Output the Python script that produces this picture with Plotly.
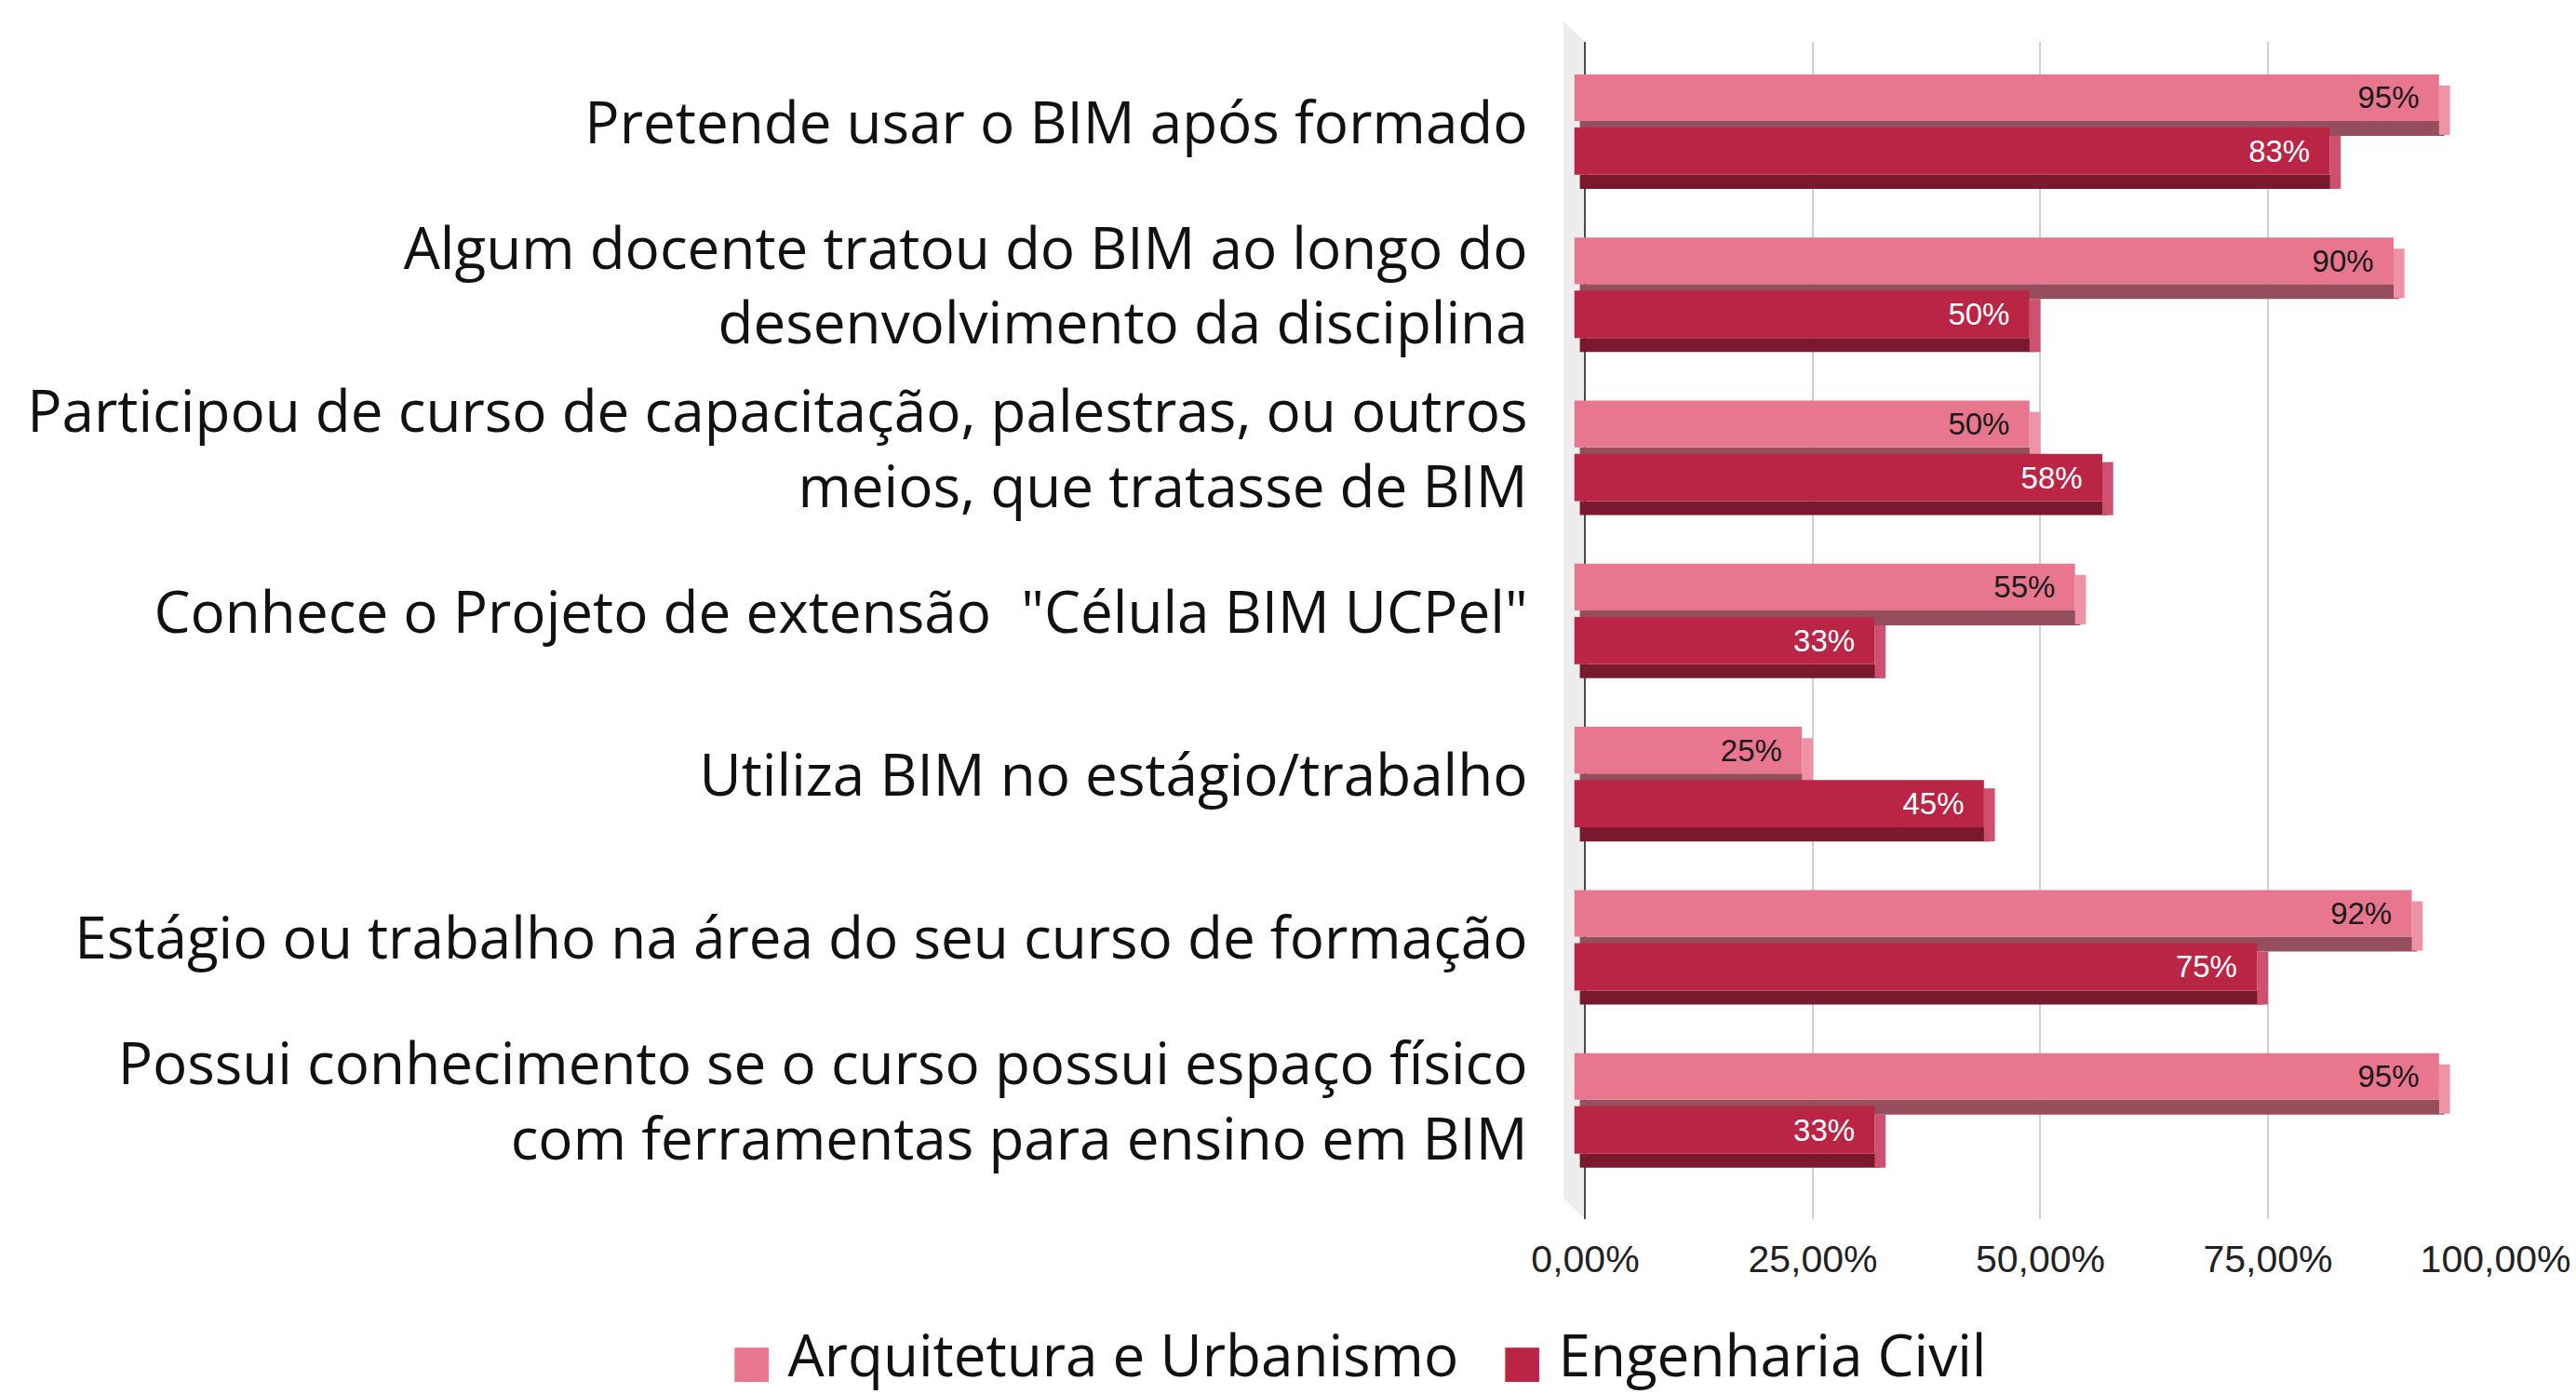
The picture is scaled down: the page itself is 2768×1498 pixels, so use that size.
import plotly.graph_objects as go

categories = [
    "Pretende usar o BIM após formado",
    "Algum docente tratou do BIM ao longo do<br>desenvolvimento da disciplina",
    "Participou de curso de capacitação, palestras, ou outros<br>meios, que tratasse de BIM",
    "Conhece o Projeto de extensão  \"Célula BIM UCPel\"",
    "Utiliza BIM no estágio/trabalho",
    "Estágio ou trabalho na área do seu curso de formação",
    "Possui conhecimento se o curso possui espaço físico<br>com ferramentas para ensino em BIM",
]
arq_values = [95, 90, 50, 55, 25, 92, 95]
eng_values = [83, 50, 58, 33, 45, 75, 33]
series_names = ["Arquitetura e Urbanismo", "Engenharia Civil"]
tick_values = [0, 25, 50, 75, 100]
tick_labels = ["0,00%", "25,00%", "50,00%", "75,00%", "100,00%"]

W, H = 2768, 1498
L, R, T, B = 1680, 86, 45, 188
DEPTH = 1.2  # pseudo-3D depth in axis %

styles = [
    dict(front="#E8768E", bottom="#954E5C", side="#EE93A6", text="#1a1a1a",
         f_off=-0.297, f_w=0.286, b_off=-0.011, b_w=0.091, s_off=-0.228, s_w=0.302),
    dict(front="#BA2445", bottom="#7A182E", side="#CD506E", text="#ffffff",
         f_off=0.029, f_w=0.290, b_off=0.319, b_w=0.086, s_off=0.08, s_w=0.325),
]

fig = go.Figure()
for name, vals, st in zip(series_names, [arq_values, eng_values], styles):
    # bottom face
    fig.add_trace(go.Bar(
        y=categories, x=vals, base=[-DEPTH / 2] * len(vals), orientation="h",
        offset=st["b_off"], width=st["b_w"], marker=dict(color=st["bottom"], line=dict(width=0)),
        showlegend=False, hoverinfo="skip"))
    # right side face
    fig.add_trace(go.Bar(
        y=categories, x=[DEPTH] * len(vals), base=[v - DEPTH for v in vals], orientation="h",
        offset=st["s_off"], width=st["s_w"], marker=dict(color=st["side"], line=dict(width=0)),
        showlegend=False, hoverinfo="skip"))
    # front face
    fig.add_trace(go.Bar(
        y=categories, x=vals, base=[-DEPTH] * len(vals), orientation="h",
        offset=st["f_off"], width=st["f_w"], marker=dict(color=st["front"], line=dict(width=0)),
        text=[f"{v}%\u00a0\u00a0" for v in vals], textposition="inside", insidetextanchor="end",
        textangle=0, constraintext="none",
        textfont=dict(family="Liberation Sans", size=33, color=st["text"]),
        name=name, showlegend=False))

# legend drawn as annotations (large swatches like the original)
plot_w = W - L - R
plot_h = H - T - B
legend_items = [(series_names[0], styles[0]["front"], 783), (series_names[1], styles[1]["front"], 1611)]
annotations = []
for name, color, px in legend_items:
    annotations.append(dict(
        xref="paper", yref="paper", x=(px - L) / plot_w, y=(H - B - 1455) / plot_h,
        xanchor="left", yanchor="middle", showarrow=False,
        text=f'<span style="color:{color};font-family:DejaVu Sans;font-size:48px">■</span>\u00a0{name}',
        font=dict(family="Open Sans", size=62, color="#111"),
    ))

fig.update_layout(
    width=W, height=H,
    margin=dict(l=L, r=R, t=T, b=B, pad=0, autoexpand=False),
    paper_bgcolor="white", plot_bgcolor="white",
    barmode="overlay",
    showlegend=False,
    annotations=annotations,
    shapes=[dict(type="path", xref="paper", yref="paper", layer="below",
                 path="M 0,1.0174 L 0.023,1.0 L 0.023,0 L 0,0.018 Z",
                 fillcolor="#EDEDED", line=dict(width=0))],
)
fig.update_xaxes(
    range=[-2.4, 100.05], tickvals=tick_values, ticktext=tick_labels,
    showgrid=True, gridcolor="#D0D0D0", gridwidth=2,
    zeroline=True, zerolinecolor="#4a4a4a", zerolinewidth=2,
    showline=False, ticks="outside", ticklen=0, ticklabelstandoff=7,
    tickfont=dict(family="Liberation Sans", size=41, color="#222"),
    automargin=False,
)
fig.update_yaxes(
    type="category", categoryorder="array", categoryarray=categories,
    range=[6.72, -0.496], autorange=False,
    showgrid=False, zeroline=False, showline=False,
    ticks="outside", ticklen=0, ticklabelstandoff=25,
    tickfont=dict(family="Open Sans", size=62, color="#111"),
    automargin=False,
)

fig.write_html(
    "out.html",
    config={"displayModeBar": False},
    post_script="document.body.style.margin='0px';document.body.style.padding='0px';"
                "document.documentElement.style.overflow='hidden';",
)
